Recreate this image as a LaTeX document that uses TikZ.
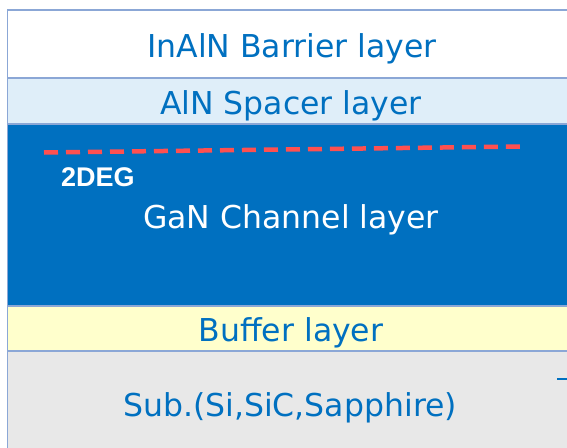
\documentclass[tikz,border=0pt]{standalone}
\usepackage{fontspec}
\setmainfont{DejaVu Sans}
\newfontfamily\degfont{Liberation Sans}
\definecolor{txtblue}{HTML}{0070C0}
\definecolor{edge}{HTML}{8BA7D6}
\definecolor{spacer}{HTML}{DFEEF9}
\definecolor{gan}{HTML}{0070C0}
\definecolor{buffer}{HTML}{FFFFCC}
\definecolor{sub}{HTML}{E8E8E8}
\definecolor{deg}{HTML}{FF5050}
\tikzset{
  layer/.style={draw=edge, line width=1.5pt, anchor=north west, minimum width=600pt, inner sep=0pt, outer sep=0pt},
  lbl/.style={font=\fontsize{31.5}{36}\selectfont, text=txtblue, inner sep=0pt, anchor=base},
  degline/.style={draw=deg, line width=4.5pt, dash pattern=on 14pt off 8pt}
}
\begin{document}
\begin{tikzpicture}[x=1pt,y=-1pt]
\useasboundingbox (0,0) rectangle (567,447);
\fill[white] (0,0) rectangle (567,447);
\node[layer, fill=white, minimum height=68pt] (barrier) at (7.5,10) {};
\node[layer, fill=spacer, minimum height=46pt] (spacer) at (7.5,78) {};
\node[layer, fill=gan, minimum height=182pt] (gan) at (7.5,124) {};
\node[layer, fill=buffer, minimum height=45pt] (buffer) at (7.5,306) {};
\node[layer, fill=sub, minimum height=120pt] (sub) at (7.5,351) {};
\node[lbl] (tb) at (292,57) {InAlN Barrier layer};
\node[lbl] (ts) at (291,114) {AlN Spacer layer};
\node[lbl, text=white] (tg) at (291,228) {GaN Channel layer};
\node[lbl] (tbu) at (291,341) {Buffer layer};
\node[lbl] (tsu) at (290,416) {Sub.(Si,SiC,Sapphire)};
\coordinate (d1) at (44,152.5);
\coordinate (d2) at (522,146.5);
\draw[degline] (d1) -- (d2);
\node[font=\degfont\bfseries\fontsize{27}{32}\selectfont, text=white, inner sep=0pt, anchor=base west] (t2deg) at (61,186) {2DEG};
\coordinate (m1) at (557,379);
\coordinate (m2) at (567,379);
\draw[txtblue, line width=1.2pt] (m1) -- (m2);
\end{tikzpicture}
\end{document}
